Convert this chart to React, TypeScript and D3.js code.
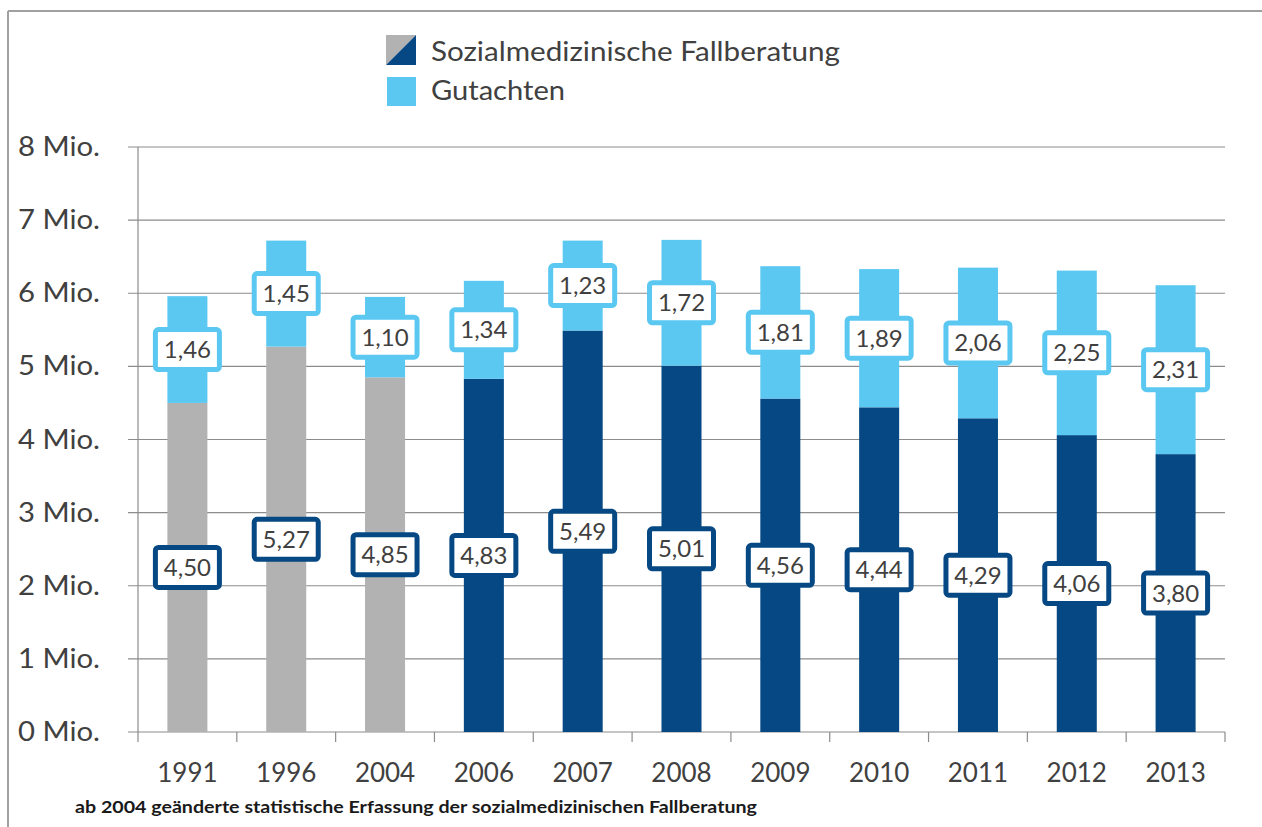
import React from "react";
import * as d3 from "d3";

const years = ["1991", "1996", "2004", "2006", "2007", "2008", "2009", "2010", "2011", "2012", "2013"];
const fallberatung = [4.5, 5.27, 4.85, 4.83, 5.49, 5.01, 4.56, 4.44, 4.29, 4.06, 3.8];
const gutachten = [1.46, 1.45, 1.1, 1.34, 1.23, 1.72, 1.81, 1.89, 2.06, 2.25, 2.31];
const oldMethod = ["1991", "1996", "2004"];
const yTicks = [0, 1, 2, 3, 4, 5, 6, 7, 8];

const GRAY = "#b2b2b2";
const DARK = "#064883";
const LIGHT = "#5bc8f2";
const TEXT = "#404040";
const FONT = "Lato, 'Open Sans', sans-serif";

const fmt = (v: number) => v.toFixed(2).replace(".", ",");

function Label({ x, y, value, color }: { x: number; y: number; value: number; color: string }) {
  const w = 64, h = 40;
  return (
    <g>
      <rect x={x - w / 2} y={y - h / 2} width={w} height={h} rx={3} fill="#fff" stroke={color} strokeWidth={5} />
      <text x={x} y={y + 8.5} textAnchor="middle" fontSize={24} fill={TEXT} fontFamily={FONT}>
        {fmt(value)}
      </text>
    </g>
  );
}

export default function App() {
  const W = 1262, H = 827;
  const left = 138, right = 1225, top = 147, bottom = 732;

  const x = d3.scaleBand<string>().domain(years).range([left, right]).paddingInner(0.595).paddingOuter(0.2975);
  const band = d3.scaleBand<string>().domain(years).range([left, right]);
  const y = d3.scaleLinear().domain([0, 8]).range([bottom, top]);

  return (
    <svg width={W} height={H} style={{ position: "absolute", left: 0, top: 0, background: "#fff" }}>
      <rect x={0} y={0} width={W} height={H} fill="#fff" />
      {/* frame */}
      <line x1={8} x2={W} y1={11} y2={11} stroke="#a0a0a0" strokeWidth={2} />
      <line x1={8} x2={8} y1={11} y2={H} stroke="#a0a0a0" strokeWidth={2} />

      {/* legend */}
      <g fontFamily={FONT} fontSize={26} fill={TEXT}>
        <polygon points="386,35 416,35 386,65" fill={GRAY} />
        <polygon points="416,35 416,65 386,65" fill={DARK} />
        <text x={431} y={61} textLength={409} lengthAdjust="spacingAndGlyphs">Sozialmedizinische Fallberatung</text>
        <rect x={387} y={77} width={29} height={29} fill={LIGHT} />
        <text x={431} y={100} textLength={134} lengthAdjust="spacingAndGlyphs">Gutachten</text>
      </g>

      {/* gridlines */}
      {yTicks.map((t) => (
        <g key={t}>
          <line x1={128} x2={right} y1={y(t)} y2={y(t)} stroke="#8c8c8c" strokeWidth={1.2} />
          <text x={18} y={y(t) + 9} fontSize={26} fill={TEXT} fontFamily={FONT} textLength={82} lengthAdjust="spacingAndGlyphs">
            {t} Mio.
          </text>
        </g>
      ))}
      <line x1={left} x2={left} y1={top} y2={bottom} stroke="#8c8c8c" strokeWidth={1.2} />
      {years.map((yr) => (
        <line key={yr} x1={band(yr)!} x2={band(yr)!} y1={bottom} y2={bottom + 10} stroke="#8c8c8c" strokeWidth={1.2} />
      ))}
      <line x1={right} x2={right} y1={bottom} y2={bottom + 10} stroke="#8c8c8c" strokeWidth={1.2} />

      {/* bars */}
      {years.map((yr, i) => {
        const base = fallberatung[i];
        const tot = base + gutachten[i];
        return (
          <g key={yr}>
            <rect x={x(yr)!} width={x.bandwidth()} y={y(base)} height={y(0) - y(base)} fill={oldMethod.includes(yr) ? GRAY : DARK} />
            <rect x={x(yr)!} width={x.bandwidth()} y={y(tot)} height={y(base) - y(tot)} fill={LIGHT} />
          </g>
        );
      })}

      {/* labels */}
      {years.map((yr, i) => {
        const cx = x(yr)! + x.bandwidth() / 2;
        const base = fallberatung[i];
        return (
          <g key={yr}>
            <Label x={cx} y={y(base / 2)} value={base} color={DARK} />
            <Label x={cx} y={y(base + gutachten[i] / 2)} value={gutachten[i]} color={LIGHT} />
            <text x={cx} y={782} textAnchor="middle" fontSize={26} fill={TEXT} fontFamily={FONT}>
              {yr}
            </text>
          </g>
        );
      })}

      <text x={75} y={813} fontSize={17} fontWeight="bold" fill="#1a1a1a" fontFamily={FONT} textLength={682} lengthAdjust="spacingAndGlyphs">
        ab 2004 geänderte statistische Erfassung der sozialmedizinischen Fallberatung
      </text>
    </svg>
  );
}
